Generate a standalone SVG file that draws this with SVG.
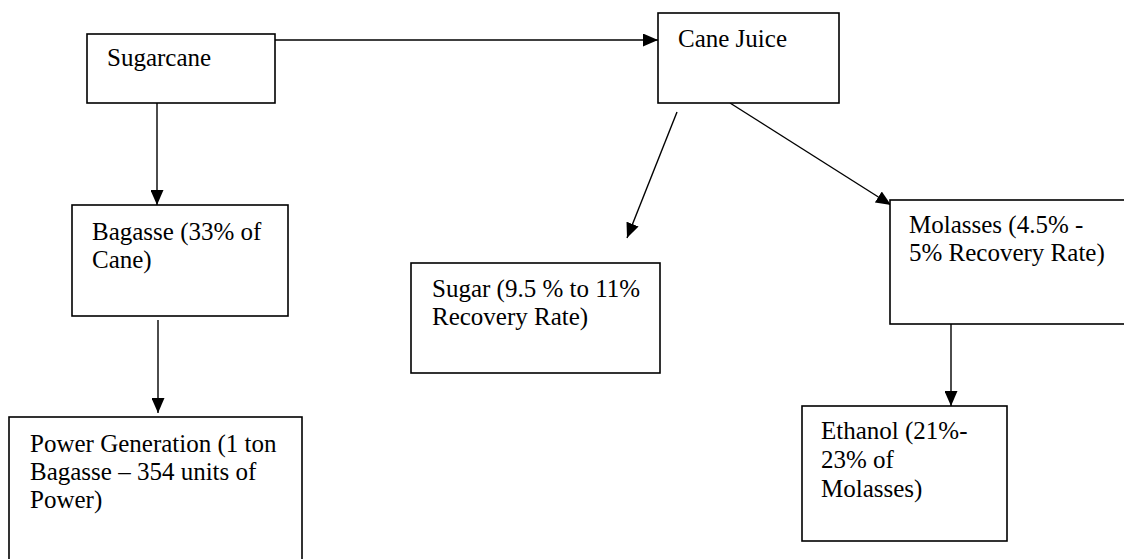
<svg xmlns="http://www.w3.org/2000/svg" width="1124" height="559" viewBox="0 0 1124 559">
<style>
.box{fill:#fff;stroke:#000;stroke-width:1.6}
.t{font-family:"Liberation Serif","Times New Roman",serif;font-size:25px;fill:#000}
.c{stroke:#000;stroke-width:1.4;fill:none;marker-end:url(#ah)}
</style>
<defs>
<marker id="ah" markerUnits="userSpaceOnUse" markerWidth="15" markerHeight="13" refX="15" refY="6.5" orient="auto">
<path d="M0,0 L15,6.5 L0,13 z" fill="#000"/>
</marker>
</defs>
<rect width="1124" height="559" fill="#fff"/>
<g id="connectors">
<line class="c" x1="275" y1="40" x2="658" y2="40"/>
<line class="c" x1="157" y1="103" x2="157" y2="205"/>
<line class="c" x1="158" y1="320" x2="158" y2="413"/>
<line class="c" x1="677" y1="112" x2="627" y2="238"/>
<line class="c" x1="730" y1="103" x2="891" y2="205"/>
<line class="c" x1="951" y1="324" x2="951" y2="406"/>
</g>
<g id="sugarcane">
<rect class="box" x="87" y="34" width="188" height="69"/>
<text class="t" x="107" y="66">Sugarcane</text>
</g>
<g id="cane-juice">
<rect class="box" x="658" y="13" width="181" height="90"/>
<text class="t" x="678" y="47">Cane Juice</text>
</g>
<g id="bagasse">
<rect class="box" x="72" y="205" width="216" height="111"/>
<text class="t" x="92" y="240">Bagasse (33% of</text>
<text class="t" x="92" y="268">Cane)</text>
</g>
<g id="sugar">
<rect class="box" x="411" y="263" width="249" height="110"/>
<text class="t" x="432" y="297">Sugar (9.5 % to 11%</text>
<text class="t" x="432" y="325">Recovery Rate)</text>
</g>
<g id="molasses">
<rect class="box" x="890" y="200" width="240" height="124"/>
<text class="t" x="909" y="233">Molasses (4.5% -</text>
<text class="t" x="909" y="261">5% Recovery Rate)</text>
</g>
<g id="power">
<rect class="box" x="9" y="417" width="293" height="150"/>
<text class="t" x="30" y="452">Power Generation (1 ton</text>
<text class="t" x="30" y="480">Bagasse – 354 units of</text>
<text class="t" x="30" y="508">Power)</text>
</g>
<g id="ethanol">
<rect class="box" x="802" y="406" width="205" height="135"/>
<text class="t" x="821" y="439">Ethanol (21%-</text>
<text class="t" x="821" y="468">23% of</text>
<text class="t" x="821" y="497">Molasses)</text>
</g>
</svg>
